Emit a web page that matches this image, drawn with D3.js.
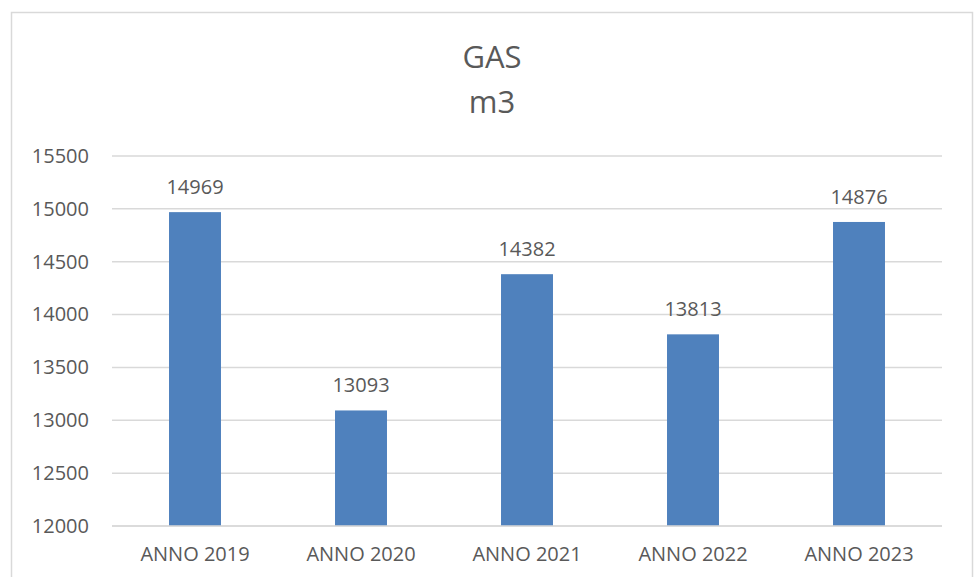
<!DOCTYPE html>
<html>
<head>
<meta charset="utf-8">
<script src="https://cdn.jsdelivr.net/npm/d3@7"></script>
<style>
  body { margin: 0; background: #fff; }
  text { font-family: "Open Sans", sans-serif; fill: #595959; }
</style>
</head>
<body>
<div id="chart"></div>
<script>
// Data
var categories = ["ANNO 2019", "ANNO 2020", "ANNO 2021", "ANNO 2022", "ANNO 2023"];
var values = [14969, 13093, 14382, 13813, 14876];
var yTicks = [12000, 12500, 13000, 13500, 14000, 14500, 15000, 15500];

var svgWidth = 976;
var svgHeight = 577;

var margin = { top: 156, right: 34, bottom: 51, left: 112 };
var chartWidth = svgWidth - margin.left - margin.right;
var chartHeight = svgHeight - margin.top - margin.bottom;

var svg = d3.select("#chart")
  .append("svg")
  .attr("width", svgWidth)
  .attr("height", svgHeight);

// outer frame
svg.append("rect")
  .attr("x", 11.5)
  .attr("y", 12.5)
  .attr("width", 961)
  .attr("height", 600)
  .attr("fill", "none")
  .attr("stroke", "#d9d9d9")
  .attr("stroke-width", 1.5);

// title
svg.append("text")
  .attr("x", 492)
  .attr("y", 68)
  .attr("text-anchor", "middle")
  .style("font-size", "31px")
  .text("GAS");
svg.append("text")
  .attr("x", 492)
  .attr("y", 113)
  .attr("text-anchor", "middle")
  .style("font-size", "31px")
  .text("m3");

var g = svg.append("g")
  .attr("transform", `translate(${margin.left},${margin.top})`);

var x = d3.scaleBand()
  .domain(categories)
  .range([0, chartWidth])
  .paddingInner(0.687)
  .paddingOuter(0.3435);

var y = d3.scaleLinear()
  .domain([12000, 15500])
  .range([chartHeight, 0]);

// gridlines
g.append("g")
  .selectAll("line")
  .data(yTicks)
  .enter()
  .append("line")
  .attr("x1", 0)
  .attr("x2", chartWidth)
  .attr("y1", d => y(d))
  .attr("y2", d => y(d))
  .attr("stroke", "#d9d9d9")
  .attr("stroke-width", 1.5);

// y axis labels
var yAxis = g.append("g")
  .call(d3.axisLeft(y).tickValues(yTicks).tickSize(0).tickPadding(23).tickFormat(d3.format("d")));
yAxis.select(".domain").remove();
yAxis.selectAll("text")
  .style("font-size", "20px")
  .style("font-family", "'Open Sans', sans-serif")
  .attr("fill", "#595959");

// x axis labels
var xAxis = g.append("g")
  .attr("transform", `translate(0,${chartHeight})`)
  .call(d3.axisBottom(x).tickSize(0).tickPadding(21));
xAxis.select(".domain").remove();
xAxis.selectAll("text")
  .style("font-size", "20px")
  .style("font-family", "'Open Sans', sans-serif")
  .attr("fill", "#595959");

// bars
g.selectAll(".bar")
  .data(values)
  .enter()
  .append("rect")
  .attr("class", "bar")
  .attr("x", (d, i) => x(categories[i]))
  .attr("y", d => y(d))
  .attr("width", x.bandwidth())
  .attr("height", d => chartHeight - y(d))
  .attr("fill", "#4f81bd");

// baseline redraw on top
g.append("line")
  .attr("x1", 0)
  .attr("x2", chartWidth)
  .attr("y1", chartHeight)
  .attr("y2", chartHeight)
  .attr("stroke", "#d9d9d9")
  .attr("stroke-width", 1.5);

// value labels
g.selectAll(".val")
  .data(values)
  .enter()
  .append("text")
  .attr("class", "val")
  .attr("x", (d, i) => x(categories[i]) + x.bandwidth() / 2)
  .attr("y", d => y(d) - 18)
  .attr("text-anchor", "middle")
  .style("font-size", "20px")
  .text(d => d);
</script>
</body>
</html>
